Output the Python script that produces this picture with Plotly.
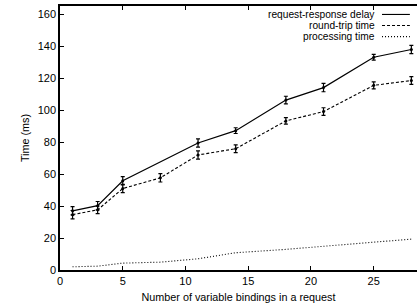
import plotly.graph_objects as go

x_rr = [1, 3, 5, 11, 14, 18, 21, 25, 28]
rr_delay = [37.0, 40.2, 55.8, 79.4, 87.1, 106.2, 114.0, 133.0, 137.8]
rr_err = [2.6, 2.6, 2.6, 2.6, 1.8, 2.4, 2.6, 1.8, 2.6]

x_rt = [1, 3, 5, 8, 11, 14, 18, 21, 25, 28]
rt_time = [34.6, 37.6, 50.9, 57.6, 71.9, 75.8, 93.2, 99.0, 115.4, 118.4]
rt_err = [2.6, 2.4, 2.6, 2.6, 2.6, 2.4, 2.0, 2.4, 2.2, 2.4]

x_pt = [1, 3, 5, 8, 11, 14, 18, 21, 25, 28]
proc_time = [2.0, 2.4, 4.3, 4.9, 7.0, 10.8, 12.9, 14.9, 17.1, 19.3]

legend_labels = ["request-response delay", "round-trip time", "processing time"]

FONT = "Liberation Sans, Arial, sans-serif"

fig = go.Figure()
fig.add_trace(go.Scatter(
    x=x_rr, y=rr_delay, mode="lines+markers",
    line=dict(color="black", width=1.2),
    marker=dict(color="black", size=3),
    error_y=dict(type="data", array=rr_err, color="black", thickness=1.2, width=2),
    showlegend=False, cliponaxis=False))
fig.add_trace(go.Scatter(
    x=x_rt, y=rt_time, mode="lines+markers",
    line=dict(color="black", width=1.1, dash="3px,2px"),
    marker=dict(color="black", size=3),
    error_y=dict(type="data", array=rt_err, color="black", thickness=1.2, width=2),
    showlegend=False, cliponaxis=False))
fig.add_trace(go.Scatter(
    x=x_pt, y=proc_time, mode="lines",
    line=dict(color="black", width=1.1, dash="1px,2px"),
    showlegend=False))

# manual legend (text right-aligned, sample line on right like gnuplot)
dashes = ["solid", "3px,2px", "1px,2px"]
ys = [0.968, 0.926, 0.884]
for lab, d, yy in zip(legend_labels, dashes, ys):
    fig.add_annotation(x=0.885, y=yy, xref="paper", yref="paper", text=lab,
                       showarrow=False, xanchor="right", yanchor="middle",
                       borderpad=0,
                       font=dict(family=FONT, size=10.2, color="black"))
    fig.add_shape(type="line", xref="paper", yref="paper",
                  x0=0.902, x1=0.98, y0=yy, y1=yy,
                  line=dict(color="black", width=1.1, dash=d))

fig.update_xaxes(range=[0, 28.45], tickvals=[0, 5, 10, 15, 20, 25],
                 ticks="inside", ticklen=4, tickcolor="black",
                 showline=True, linecolor="black", linewidth=1.5, mirror="ticks",
                 showgrid=False, zeroline=False,
                 title=dict(text="Number of variable bindings in a request",
                            font=dict(family=FONT, size=10.8, color="black"), standoff=7),
                 tickfont=dict(family=FONT, size=11, color="black"))
fig.update_yaxes(range=[0, 165], tickvals=[0, 20, 40, 60, 80, 100, 120, 140, 160],
                 ticks="inside", ticklen=4, tickcolor="black",
                 showline=True, linecolor="black", linewidth=1.5,
                 showgrid=False, zeroline=False,
                 title=dict(text="Time (ms)", font=dict(family=FONT, size=10.8, color="black"),
                            standoff=6),
                 tickfont=dict(family=FONT, size=11, color="black"))

fig.update_layout(width=417, height=306, margin=dict(l=60, r=0, t=6, b=36),
                  plot_bgcolor="white", paper_bgcolor="white",
                  font=dict(family=FONT, color="black"))

fig.write_html("out.html", config={"displayModeBar": False},
               post_script="document.body.style.margin='0';document.body.style.overflow='hidden';")
